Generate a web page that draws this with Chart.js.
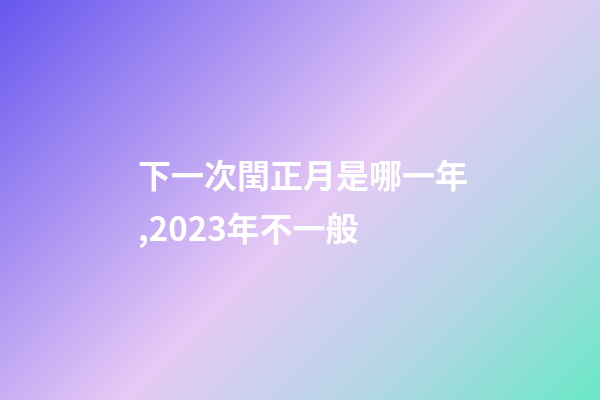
<!DOCTYPE html>
<html>
<head>
<meta charset="utf-8">
<script src="https://cdn.jsdelivr.net/npm/chart.js@4/dist/chart.umd.min.js"></script>
<style>
  html, body { margin: 0; padding: 0; background: #fff; }
  #box { width: 600px; height: 400px; position: relative; }
</style>
</head>
<body>
<div id="box"><canvas id="pic"></canvas></div>
<script>
// text of the picture, one entry per line
var titleLines = ['下一次閏正月是哪一年', ',2023年不一般'];
var labels = [];
var values = [];

// diagonal background, like a css 135deg gradient
var bgPlugin = {
  id: 'bg',
  beforeDraw: function(chart) {
    var ctx = chart.ctx;
    var w = chart.width, h = chart.height;
    var d = (w + h) / 4;
    var g = ctx.createLinearGradient(w / 2 - d, h / 2 - d, w / 2 + d, h / 2 + d);
    g.addColorStop(0, '#6656ee');
    g.addColorStop(0.52, '#e6c9f5');
    g.addColorStop(0.76, '#b4d6e6');
    g.addColorStop(1, '#68e8c6');
    ctx.save();
    ctx.fillStyle = g;
    ctx.fillRect(0, 0, w, h);
    ctx.restore();
  }
};

var pic = document.getElementById('pic').getContext('2d');
var chart = new Chart(pic, {
  type: 'bar',
  data: {
    labels: labels,
    datasets: [{ data: values }]
  },
  options: {
    responsive: true,
    maintainAspectRatio: false,
    animation: false,
    events: [],
    layout: { padding: { left: 138, top: 0, right: 0, bottom: 0 } },
    scales: {
      x: { display: false },
      y: { display: false }
    },
    plugins: {
      legend: { display: false },
      tooltip: { enabled: false },
      title: {
        display: true,
        text: titleLines,
        align: 'start',
        color: '#ffffff',
        font: { family: '"Noto Sans CJK SC", "Noto Sans", sans-serif', size: 33, weight: 'bold', lineHeight: 1.6 },
        padding: { top: 149, bottom: 0 }
      }
    }
  },
  plugins: [bgPlugin]
});
</script>
</body>
</html>
